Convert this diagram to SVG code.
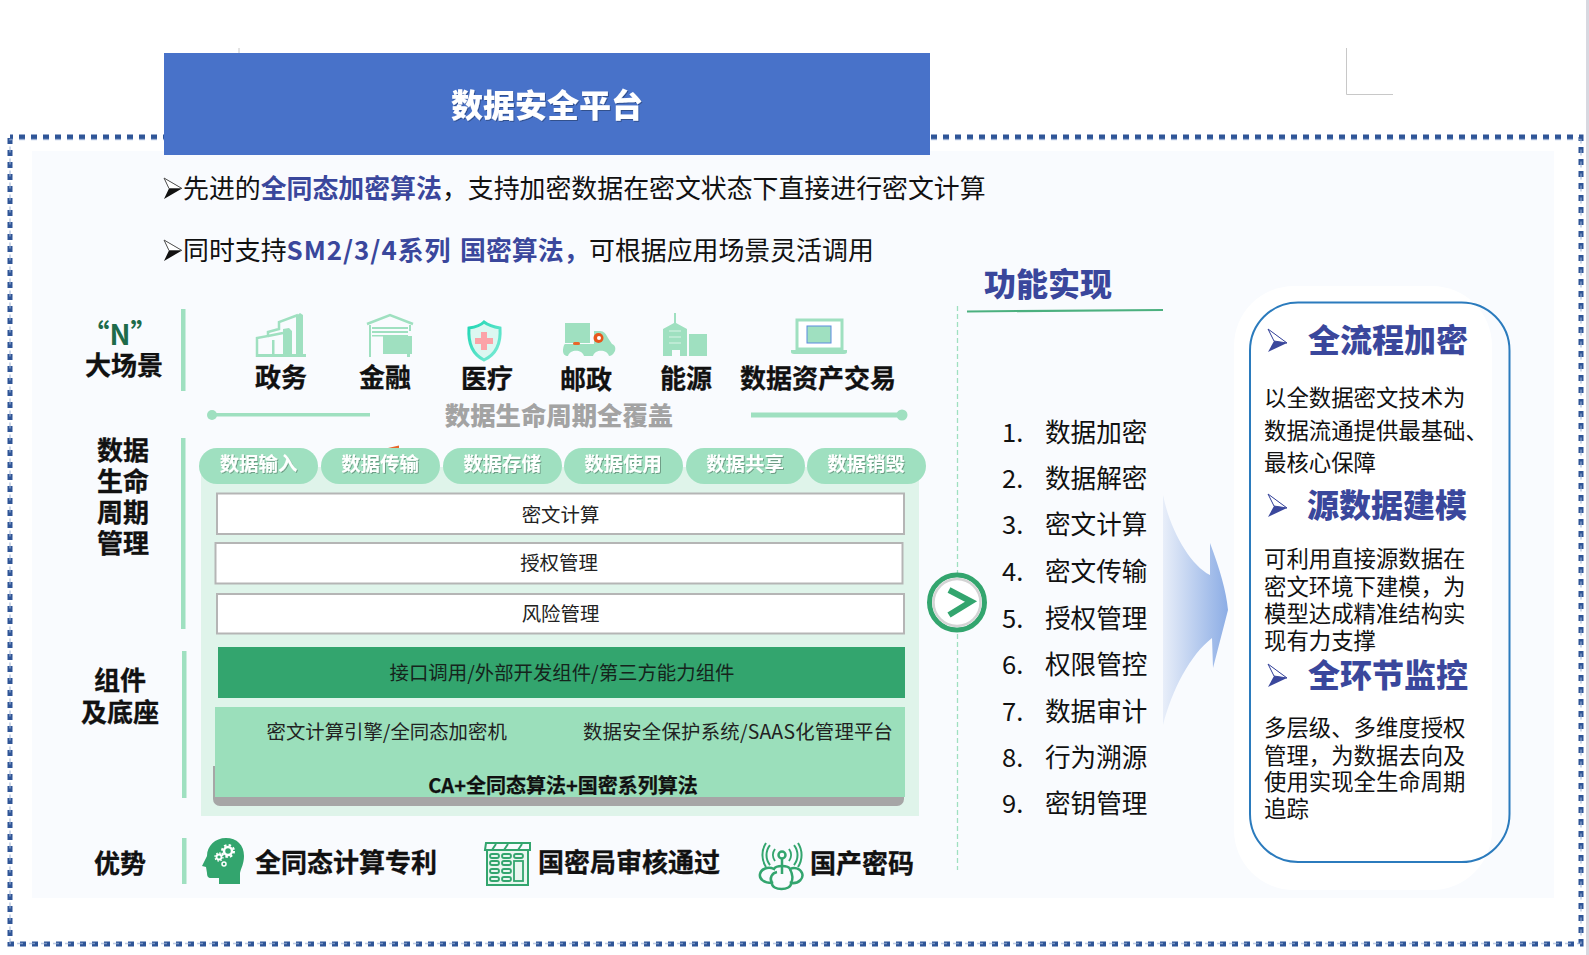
<svg xmlns="http://www.w3.org/2000/svg" width="1589" height="955" viewBox="0 0 1589 955">
<style>
text{font-family:"Noto Sans CJK SC","Microsoft YaHei",sans-serif;dominant-baseline:central;fill:#111;transform:translateY(-2px)}
.m{text-anchor:middle}
.b{font-weight:700}
.h26{font-size:26px;font-weight:700;stroke:#111;stroke-width:.3px}
.t26{font-size:25.6px}
.t19{font-size:19.4px;fill:#222}
.pill{fill:#9fe0c0}
.pillt{font-size:19.4px;fill:#fff;text-anchor:middle;font-weight:700;filter:url(#ts)}
.bar{fill:#9fe0c0}
.box{fill:#fff;stroke:#b5b5b5;stroke-width:2}
.blue{fill:#3a479c;font-weight:700}
.hd{font-size:32px;fill:#3a479c;font-weight:900}
.body{font-size:22.4px}
.ic{fill:#9fe0c0}
.icl{fill:none;stroke:#9fe0c0;stroke-width:2.5}
.gl{fill:none;stroke:#33a56e;stroke-width:2.5}
</style>
<defs>
<filter id="ts" x="-10%" y="-10%" width="120%" height="130%"><feDropShadow dx="1" dy="1" stdDeviation="0.7" flood-color="#000" flood-opacity="0.3"/></filter>
<linearGradient id="ag" x1="0" x2="1" y1="0" y2="0"><stop offset="0" stop-color="#e8eef9"/><stop offset="1" stop-color="#8cade5"/></linearGradient>
<linearGradient id="sh" x1="0" x2="1" y1="0" y2="1"><stop offset="0" stop-color="#1fd6b4"/><stop offset="1" stop-color="#7fecd6"/></linearGradient>
<g id="bul"><path d="M0 0L18 10.500L0 21L5 10.500Z" fill="#111"/><path d="M0 0L18 10.500L5 10.500Z" fill="#fff" stroke="#555" stroke-width="1"/></g>
<g id="bul2"><path d="M0 0L19 14L0 23L6 12Z" fill="#3a479c"/><path d="M0 0L19 14L6 12Z" fill="#fff" stroke="#3a479c" stroke-width="1"/></g>
</defs>
<rect width="1589" height="955" fill="#fff"/>
<rect x="1586" y="0" width="3" height="955" fill="#d8d8e0"/>
<g id="page-marks" fill="none" stroke="#c8c8c8" stroke-width="1">
<path d="M239 48V53"/><path d="M1346.500 48V94.500H1393"/>
</g>
<rect id="panel" x="32" y="151" width="1522" height="747" fill="#f9fbfe"/>
<g id="frame" fill="none">
<rect x="10" y="137" width="1571" height="807" stroke="#2f5597" stroke-width="5" stroke-dasharray="6 6" stroke-dashoffset="3"/>
<rect x="10" y="139.500" width="1571" height="804" stroke="#9db2d6" stroke-width="1.500" stroke-dasharray="6 6" stroke-dashoffset="3" opacity=".7"/>
</g>
<g id="title">
<rect x="164" y="53" width="766" height="102" fill="#4872c9"/>
<text class="m" x="547" y="105" font-size="32" font-weight="900" style="fill:#fff" filter="url(#ts)">数据安全平台</text>
</g>
<g id="intro">
<use href="#bul" x="164" y="178"/>
<text x="183" y="188" font-size="25.9">先进的<tspan class="blue">全同态加密算法</tspan>&#65292;支持加密数据在密文状态下直接进行密文计算</text>
<use href="#bul" x="164" y="240"/>
<text x="183" y="250" font-size="25.9">同时支持<tspan class="blue" letter-spacing="1">SM2/3/4系列</tspan><tspan class="blue" x="460">国密算法&#65292;</tspan></text>
<text x="589" y="250" font-size="25.9">可根据应用场景灵活调用</text>
</g>

<g id="row-scenes">
<text class="m b" x="120" y="335" font-size="28" style="fill:#1e6b4a">“N”</text>
<text class="m h26" x="124" y="365">大场景</text>
<rect class="bar" x="181" y="309" width="4.500" height="82"/>
<g id="s1">
<path class="icl" d="M257 357V338L268 336V332L279 329V322L298 315"/>
<path class="icl" d="M268 336L283 333" stroke-width="2"/>
<path class="ic" d="M296 316l4-3 3 2V355h-7zM283 329l6-1 3 3V355h-9z"/>
<path class="ic" d="M272 340h2.500v15h-2.500zM257 354h49v3h-49z"/>
<text class="m h26" x="281" y="377">政务</text>
</g>
<g id="s2">
<path class="icl" d="M367 324L390 315L413 324"/>
<path class="ic" d="M369 325h2v32h-2zM409 325h2v6h-2zM372 327h36v2h-36zM372 331h36v2h-36zM372 335h36v1.500h-36z"/>
<rect class="ic" x="383" y="336" width="29" height="18"/>
<rect class="ic" x="407" y="352" width="3" height="5"/>
<text class="m h26" x="385" y="377">金融</text>
</g>
<g id="s3">
<path d="M469 328C476 327 481 325 484 322C488 325 494 327 500 328C501 342 497 354 484 360C472 354 468 342 469 328Z" fill="#dcf7f1" stroke="url(#sh)" stroke-width="3"/>
<path d="M481 332h6v6h6v6h-6v6h-6v-6h-6v-6h6z" fill="#fba3a8"/>
<text class="m h26" x="487" y="378">医疗</text>
</g>
<g id="s4">
<rect class="ic" x="565" y="323" width="25" height="20"/>
<path class="ic" d="M594 331h6c4 0 6 3 8 7l6 9h-20z"/>
<path class="ic" d="M565 344h46c4 0 5 4 4 7c-2 4-4 5-6 5c-2-7-14-7-16 0h-9c-2-7-14-7-16 0c-3 0-5-2-5-5c0-3 1-7 2-7z"/>
<rect x="573" y="342" width="7" height="3" rx="1.500" fill="#e8662a"/>
<circle cx="598.500" cy="338" r="5" fill="#e8561c"/><circle cx="599" cy="338" r="2" fill="#fff"/>
<text class="m h26" x="586" y="379">邮政</text>
</g>
<g id="s5">
<path class="ic" d="M674 313h2v10l11 6V356h-7v-6h-8v6h-9V329l11-6z"/>
<path d="M669 331h12M669 337h12M669 343h12" stroke="#d9f4e7" stroke-width="1"/>
<rect class="ic" x="689" y="334" width="18" height="22"/>
<text class="m h26" x="686" y="378">能源</text>
</g>
<g id="s6">
<rect x="797" y="320" width="45" height="29" fill="#fff" stroke="#9fe0c0" stroke-width="3"/>
<rect x="807" y="326" width="24" height="17" fill="#9fe0c0" stroke="#5b8be0" stroke-width="1"/>
<path class="ic" d="M791 350h56l0 2c0 1-1 2-3 2h-50c-2 0-3-1-3-2z"/>
<text class="m h26" x="818" y="378">数据资产交易</text>
</g>
</g>

<g id="coverage">
<rect class="bar" x="212" y="413" width="158" height="3.500"/>
<circle class="bar" cx="212" cy="415" r="5"/>
<rect class="bar" x="751" y="412.500" width="150" height="5"/>
<circle class="bar" cx="902" cy="415" r="5.500"/>
<text class="m" x="559" y="416" font-size="25.400" font-weight="900" style="fill:#a3a3a3">数据生命周期全覆盖</text>
</g>

<g id="row-lifecycle">
<text class="m h26" x="123" y="450">数据</text>
<text class="m h26" x="123" y="481">生命</text>
<text class="m h26" x="123" y="512">周期</text>
<text class="m h26" x="123" y="543">管理</text>
<rect class="bar" x="181" y="438" width="4.500" height="191"/>
</g>
<rect id="stack-bg" x="201" y="467" width="718" height="349" fill="#dff4ea"/>
<g id="pills">
<rect class="pill" x="199" y="448" width="119" height="36" rx="18"/><text class="pillt" x="258.500" y="464">数据输入</text>
<rect class="pill" x="321" y="448" width="119" height="36" rx="18"/><text class="pillt" x="380" y="464">数据传输</text>
<rect class="pill" x="443" y="448" width="119" height="36" rx="18"/><text class="pillt" x="502" y="464">数据存储</text>
<rect class="pill" x="564" y="448" width="119" height="36" rx="18"/><text class="pillt" x="623" y="464">数据使用</text>
<rect class="pill" x="686" y="448" width="119" height="36" rx="18"/><text class="pillt" x="745" y="464">数据共享</text>
<rect class="pill" x="807" y="448" width="119" height="36" rx="18"/><text class="pillt" x="866" y="464">数据销毁</text>
<path d="M388 448L399 445.500V448Z" fill="#e8662a"/>
</g>
<g id="box-1"><rect class="box" x="217" y="493.500" width="687" height="40.500"/><text class="m t19" x="560.500" y="515">密文计算</text></g>
<g id="box-2"><rect class="box" x="215.500" y="543" width="687" height="40.500"/><text class="m t19" x="559" y="563">授权管理</text></g>
<g id="box-3"><rect class="box" x="217" y="594" width="687" height="39.500"/><text class="m t19" x="560.500" y="614">风险管理</text></g>

<g id="row-components">
<text class="m h26" x="120" y="680">组件</text>
<text class="m h26" x="120" y="712">及底座</text>
<rect class="bar" x="182" y="651" width="4.500" height="147"/>
</g>
<g id="api"><rect x="218" y="647" width="687" height="51" fill="#33a56e"/><text class="m t19" x="562" y="673" style="fill:#15241c">接口调用/外部开发组件/第三方能力组件</text></g>
<g id="base">
<path d="M213 766V799a7 7 0 0 0 7 7H897a7 7 0 0 0 7-7V790H216V766Z" fill="#a6a6a6"/>
<rect x="215" y="707" width="690" height="90" fill="#9bdfbb"/>
<text class="t19" x="266.500" y="732">密文计算引擎/全同态加密机</text>
<text class="t19" x="583" y="732" textLength="310">数据安全保护系统/SAAS化管理平台</text>
<text class="m b" x="563" y="786" font-size="20" stroke="#111" stroke-width=".25">CA+全同态算法+国密系列算法</text>
</g>

<g id="row-advantages">
<text class="m h26" x="120" y="863">优势</text>
<rect class="bar" x="182" y="838" width="4.500" height="46"/>
<g id="adv-1">
<path d="M206 867l-4-1 5-10c0-10 8-18 19-18c11 0 18 7 18 18c0 8-3 12-4 17v11h-21v-6h-8c-3 0-4-2-4-5z" fill="#33a56e"/>
<g fill="none" stroke="#fff">
<circle cx="228" cy="851" r="4" stroke-width="2.500"/><circle cx="228" cy="851" r="6" stroke-width="2" stroke-dasharray="2.500 2.200"/>
<circle cx="219" cy="857" r="2.500" stroke-width="1.800"/><circle cx="219" cy="857" r="4" stroke-width="1.300" stroke-dasharray="1.600 1.500"/>
<circle cx="224" cy="864" r="2" stroke-width="1.500"/>
</g>
<text class="h26" x="255" y="862">全同态计算专利</text>
</g>
<g id="adv-2">
<path d="M485 850l1-7h44v7zM492 850l4-6M504 850l4-6M518 850l4-6" fill="none" stroke="#33a56e" stroke-width="2"/>
<path d="M487 850h41v35h-41z" fill="#eaf7f0" stroke="#33a56e" stroke-width="2"/>
<g class="gl" style="stroke-width:1.800">
<rect x="490" y="854" width="9" height="4" rx="2"/><rect x="502" y="854" width="9" height="4" rx="2"/><rect x="514" y="854" width="9" height="4" rx="2"/>
<rect x="490" y="861" width="9" height="4" rx="2"/><rect x="502" y="861" width="9" height="4" rx="2"/>
<rect x="490" y="869" width="9" height="4" rx="2"/><rect x="502" y="869" width="9" height="4" rx="2"/>
<rect x="490" y="877" width="9" height="4" rx="2"/><rect x="502" y="877" width="9" height="4" rx="2"/>
<rect x="514" y="861" width="9" height="20"/>
</g>
<text class="h26" x="538" y="862">国密局审核通过</text>
</g>
<g id="adv-3">
<g class="gl">
<path d="M782 858V874"/><circle cx="782" cy="855" r="3.500"/>
<path d="M775 849a10 10 0 0 0 0 12M789 849a10 10 0 0 1 0 12M770 845a16 16 0 0 0 0 20M794 845a16 16 0 0 1 0 20M766 843a22 22 0 0 0 0 24M798 843a22 22 0 0 1 0 24" stroke-width="2"/>
<path d="M772 883c-1 8 20 8 19 0c8 1 13-5 11-10c-2-5-8-6-12-4c-2-4-14-4-16 0c-6-3-13 0-14 5c-1 5 4 9 12 9z"/>
<path d="M772 883c-3-5 0-10 5-11M791 883c3-5 1-10-1-14"/>
</g>
<text class="h26" x="810" y="863">国产密码</text>
</g>
</g>

<g id="connectors">
<path d="M957.500 306V870" fill="none" stroke="#9fe0c0" stroke-width="1.300" stroke-dasharray="5 3"/>
<path d="M1163 495C1170 530 1190 565 1210 575L1210 543C1220 570 1226 590 1228 610L1213 668L1212 638C1190 655 1172 690 1163 725Z" fill="url(#ag)"/>
</g>
<g id="chevron-node">
<circle cx="957" cy="602.500" r="27.500" fill="#fff" stroke="#33a56e" stroke-width="5"/>
<circle cx="957" cy="602.500" r="23.500" fill="none" stroke="#d4d4d4" stroke-width="2.500"/>
<path d="M949 590L971 601.500L949 615" fill="none" stroke="#33a56e" stroke-width="6"/>
</g>

<g id="functions">
<text class="hd" x="984" y="284">功能实现</text>
<path d="M967 311.500L1163 310" stroke="#4cb07f" stroke-width="2" fill="none"/>
<g class="t26">
<text x="1002" y="432">1.</text><text x="1045" y="432">数据加密</text>
<text x="1002" y="478">2.</text><text x="1045" y="478">数据解密</text>
<text x="1002" y="524">3.</text><text x="1045" y="524">密文计算</text>
<text x="1002" y="571">4.</text><text x="1045" y="571">密文传输</text>
<text x="1002" y="618">5.</text><text x="1045" y="618">授权管理</text>
<text x="1002" y="664">6.</text><text x="1045" y="664">权限管控</text>
<text x="1002" y="711">7.</text><text x="1045" y="711">数据审计</text>
<text x="1002" y="757">8.</text><text x="1045" y="757">行为溯源</text>
<text x="1002" y="803">9.</text><text x="1045" y="803">密钥管理</text>
</g>
</g>

<g id="value-card">
<rect x="1234" y="286" width="258" height="604" rx="60" fill="#fff"/>
<rect x="1250" y="302.500" width="259.500" height="559.500" rx="48" fill="none" stroke="#2b7bbd" stroke-width="2"/>
<use href="#bul2" x="1268" y="329"/>
<text class="hd" x="1308" y="340">全流程加密</text>
<text class="body" x="1264" y="398">以全数据密文技术为</text>
<text class="body" x="1264" y="431">数据流通提供最基础、</text>
<text class="body" x="1264" y="463">最核心保障</text>
<use href="#bul2" x="1268" y="494"/>
<text class="hd" x="1307" y="505">源数据建模</text>
<text class="body" x="1264" y="559">可利用直接源数据在</text>
<text class="body" x="1264" y="587">密文环境下建模&#65292;为</text>
<text class="body" x="1264" y="614">模型达成精准结构实</text>
<text class="body" x="1264" y="641">现有力支撑</text>
<use href="#bul2" x="1268" y="664"/>
<text class="hd" x="1308" y="675">全环节监控</text>
<text class="body" x="1264" y="728">多层级、多维度授权</text>
<text class="body" x="1264" y="756">管理&#65292;为数据去向及</text>
<text class="body" x="1264" y="782">使用实现全生命周期</text>
<text class="body" x="1264" y="809">追踪</text>
</g>
</svg>
